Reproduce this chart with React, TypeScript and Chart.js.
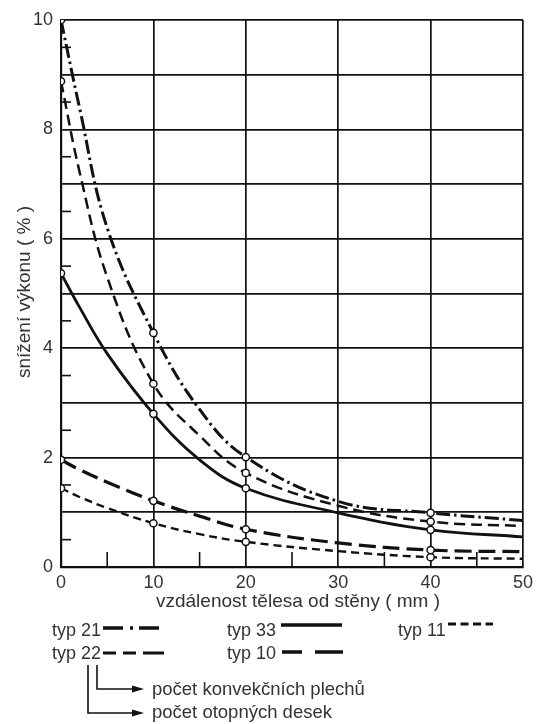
import React, { useEffect, useRef } from 'react';
import { Chart, registerables } from 'chart.js';

Chart.register(...registerables);

const distances = [0, 2, 5, 10, 15, 20, 30, 40, 50];
const markerAt = [true, false, false, true, false, true, false, true, false];
const typ21 = [10, 8.4, 6.2, 4.28, 2.88, 2.01, 1.2, 0.99, 0.85];
const typ22 = [8.88, 7.23, 5.3, 3.35, 2.4, 1.72, 1.12, 0.83, 0.75];
const typ33 = [5.37, 4.75, 3.9, 2.8, 1.96, 1.44, 0.99, 0.68, 0.55];
const typ10 = [1.96, 1.78, 1.55, 1.21, 0.93, 0.69, 0.44, 0.31, 0.28];
const typ11 = [1.44, 1.28, 1.08, 0.8, 0.6, 0.46, 0.29, 0.18, 0.15];
const seriesLabels = ['typ 21', 'typ 22', 'typ 33', 'typ 10', 'typ 11'];
const yTickLabels = [0, 2, 4, 6, 8, 10];
const xTickLabels = [0, 10, 20, 30, 40, 50];
const xTitle = 'vzdálenost tělesa od stěny ( mm )';
const yTitle = 'snížení výkonu ( % )';
const noteLines = ['počet konvekčních plechů', 'počet otopných desek'];

const INK = '#111';
const TEXT = '#333';
const FONT = '"Liberation Sans", Arial, sans-serif';

const toXY = (vals: number[]) => vals.map((v, i) => ({ x: distances[i], y: v }));
const radii = markerAt.map((m) => (m ? 3.6 : 0));

const decorPlugin = {
  id: 'decor',
  beforeDatasetsDraw(chart: any) {
    const { ctx, scales } = chart;
    const x = scales.x;
    const y = scales.y;
    ctx.save();
    ctx.strokeStyle = INK;
    ctx.lineWidth = 1.6;
    ctx.setLineDash([]);
    for (let v = 0.5; v < 10; v += 1) {
      const py = y.getPixelForValue(v);
      ctx.beginPath();
      ctx.moveTo(x.left, py);
      ctx.lineTo(x.left + 10, py);
      ctx.stroke();
    }
    for (let v = 5; v < 50; v += 10) {
      const px = x.getPixelForValue(v);
      ctx.beginPath();
      ctx.moveTo(px, y.bottom);
      ctx.lineTo(px, y.bottom - 15);
      ctx.stroke();
    }
    ctx.restore();
  },
  afterDraw(chart: any) {
    const { ctx } = chart;
    ctx.save();
    ctx.fillStyle = TEXT;
    ctx.font = `19px ${FONT}`;
    ctx.textAlign = 'center';
    ctx.textBaseline = 'middle';
    ctx.fillText(xTitle, 298, 602);
    ctx.save();
    ctx.translate(25, 292);
    ctx.rotate(-Math.PI / 2);
    ctx.fillText(yTitle, 0, 0);
    ctx.restore();

    const items = [
      { label: seriesLabels[0], tx: 52, ty: 636, x1: 103, x2: 164, ly: 628, dash: [20, 7, 3, 6], w: 3.5 },
      { label: seriesLabels[2], tx: 227, ty: 636, x1: 281, x2: 342, ly: 625, dash: [], w: 3.5 },
      { label: seriesLabels[4], tx: 398, ty: 636, x1: 448, x2: 493, ly: 624, dash: [8, 4.5], w: 3 },
      { label: seriesLabels[1], tx: 52, ty: 659, x1: 103, x2: 164, ly: 653, dash: [13, 7, 13, 7, 21], w: 3 },
      { label: seriesLabels[3], tx: 227, ty: 659, x1: 282, x2: 343, ly: 652, dash: [20, 13, 28], w: 3.5 },
    ];
    ctx.font = `18px ${FONT}`;
    ctx.textAlign = 'left';
    ctx.textBaseline = 'alphabetic';
    items.forEach((it) => {
      ctx.fillStyle = TEXT;
      ctx.fillText(it.label, it.tx, it.ty);
      ctx.strokeStyle = INK;
      ctx.lineWidth = it.w;
      ctx.setLineDash(it.dash);
      ctx.beginPath();
      ctx.moveTo(it.x1, it.ly);
      ctx.lineTo(it.x2, it.ly);
      ctx.stroke();
    });

    ctx.setLineDash([]);
    ctx.lineWidth = 1.6;
    ctx.strokeStyle = INK;
    ctx.fillStyle = INK;
    const arrows = [
      { vx: 97, top: 665, by: 689 },
      { vx: 88, top: 665, by: 713 },
    ];
    arrows.forEach((a) => {
      ctx.beginPath();
      ctx.moveTo(a.vx, a.top);
      ctx.lineTo(a.vx, a.by);
      ctx.lineTo(136, a.by);
      ctx.stroke();
      ctx.beginPath();
      ctx.moveTo(144, a.by);
      ctx.lineTo(132, a.by - 3.5);
      ctx.lineTo(132, a.by + 3.5);
      ctx.closePath();
      ctx.fill();
    });
    ctx.fillStyle = TEXT;
    ctx.font = `18.5px ${FONT}`;
    ctx.fillText(noteLines[0], 152, 695);
    ctx.fillText(noteLines[1], 152, 718);
    ctx.restore();
  },
};

export default function App() {
  const ref = useRef<HTMLCanvasElement | null>(null);

  useEffect(() => {
    if (!ref.current) return;
    const common = {
      pointRadius: radii,
      pointHoverRadius: radii,
      pointBackgroundColor: '#fff',
      pointBorderColor: INK,
      pointBorderWidth: 1.5,
      borderColor: INK,
      tension: 0.4,
      fill: false,
    };
    const chart = new Chart(ref.current, {
      type: 'line',
      data: {
        datasets: [
          { ...common, label: seriesLabels[0], data: toXY(typ21), borderWidth: 3, borderDash: [14, 4, 2.5, 4] },
          { ...common, label: seriesLabels[1], data: toXY(typ22), borderWidth: 2.5, borderDash: [11, 6] },
          { ...common, label: seriesLabels[2], data: toXY(typ33), borderWidth: 2.8, borderDash: [] },
          { ...common, label: seriesLabels[3], data: toXY(typ10), borderWidth: 3.2, borderDash: [17, 7] },
          { ...common, label: seriesLabels[4], data: toXY(typ11), borderWidth: 2.4, borderDash: [8, 5] },
        ],
      },
      options: {
        responsive: false,
        animation: false,
        devicePixelRatio: 1,
        layout: { padding: { top: 20, right: 16, left: 0, bottom: 127 } },
        plugins: { legend: { display: false }, tooltip: { enabled: false }, title: { display: false } },
        scales: {
          x: {
            type: 'linear',
            min: 0,
            max: 50,
            afterFit: (s: any) => {
              s.height = 30;
            },
            ticks: {
              stepSize: 10,
              padding: 5,
              color: TEXT,
              font: { family: FONT, size: 18 },
              maxRotation: 0,
              callback: (v: any) => (xTickLabels.includes(Number(v)) ? String(v) : ''),
            },
            grid: { color: INK, lineWidth: 1.7, drawTicks: false },
            border: { display: true, color: INK, width: 2.2 },
          },
          y: {
            type: 'linear',
            min: 0,
            max: 10,
            afterFit: (s: any) => {
              s.width = 61;
            },
            ticks: {
              stepSize: 1,
              padding: 8,
              color: TEXT,
              font: { family: FONT, size: 18 },
              callback: (v: any) => (yTickLabels.includes(Number(v)) ? String(v) : ''),
            },
            grid: { color: INK, lineWidth: 1.7, drawTicks: false },
            border: { display: true, color: INK, width: 2.2 },
          },
        },
      },
      plugins: [decorPlugin],
    });
    return () => chart.destroy();
  }, []);

  return (
    <div style={{ position: 'absolute', left: 0, top: 0, width: 539, height: 724, background: '#fff' }}>
      <canvas ref={ref} width={539} height={724} style={{ width: 539, height: 724, display: 'block' }} />
    </div>
  );
}
